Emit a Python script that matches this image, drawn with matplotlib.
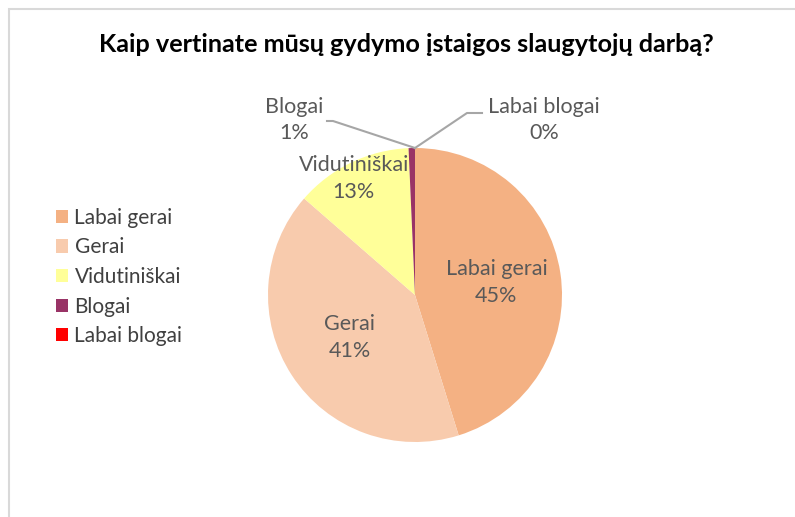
import numpy as np
import matplotlib
matplotlib.use("Agg")
import matplotlib.pyplot as plt
from matplotlib.patches import Rectangle

# ---------------------------------------------------------
# Duomenys
# ---------------------------------------------------------
kategorijos = ["Labai gerai", "Gerai", "Vidutiniškai", "Blogai", "Labai blogai"]
procentai = [45.2, 41.2, 12.9, 0.7, 0.0]
spalvos = ["#F4B183", "#F8CBAD", "#FFFF99", "#993366", "#FF0000"]
pavadinimas = "Kaip vertinate mūsų gydymo įstaigos slaugytojų darbą?"

plt.rcParams["font.family"] = ["Lato", "DejaVu Sans"]

W, H = 795, 517
fig = plt.figure(figsize=(W / 100, H / 100), dpi=100)
ax = fig.add_axes([0, 0, 1, 1])

# chart area border
fig.patches.append(Rectangle((9 / W, -0.1), 1.2, 1 - 9 / H + 0.1, transform=fig.transFigure,
                             fill=False, edgecolor="#D9D9D9", linewidth=1.5))

cx, cy, r = 415, H - 295, 147
wedges, _ = ax.pie(procentai, colors=spalvos, startangle=90, counterclock=False,
                   center=(cx, cy), radius=r, frame=True,
                   wedgeprops=dict(linewidth=0))
ax.set_xlim(0, W)
ax.set_ylim(0, H)
ax.axis("off")

teksto_spalva = "#595959"
dydis = 15.5
tarpai = 1.4


def vidurio_kampas(w):
    return np.deg2rad((w.theta1 + w.theta2) / 2)


# labels inside (frac of radius, small x shift)
vidiniai = {0: (0.56, 0), 1: (0.53, 0), 2: (0.88, -5)}
for i, (frac, dx) in vidiniai.items():
    a = vidurio_kampas(wedges[i])
    x = cx + frac * r * np.cos(a) + dx
    y = cy + frac * r * np.sin(a)
    ax.text(x, y, f"{kategorijos[i]}\n{procentai[i]:.0f}%", ha="center", va="center",
            fontsize=dydis, color=teksto_spalva, linespacing=tarpai, zorder=5)

# labels outside with leader lines
virsus = (cx, cy + r)
ax.plot([virsus[0], 333, 327], [virsus[1], H - 121, H - 121], color="#A6A6A6", lw=1.5)
ax.text(294, H - 120, f"{kategorijos[3]}\n{procentai[3]:.0f}%", ha="center", va="center",
        fontsize=dydis, color=teksto_spalva, linespacing=tarpai)
ax.plot([virsus[0], 467, 482], [virsus[1], H - 113, H - 113], color="#A6A6A6", lw=1.5)
ax.text(544, H - 120, f"{kategorijos[4]}\n{procentai[4]:.0f}%", ha="center", va="center",
        fontsize=dydis, color=teksto_spalva, linespacing=tarpai)

fig.text(406 / W, 1 - 45 / H, pavadinimas, ha="center", va="center",
         fontsize=18.2, fontweight="bold", color="black")

ax.legend(wedges, kategorijos, loc="center left", bbox_to_anchor=(37 / W, 1 - 277 / H),
          bbox_transform=fig.transFigure, frameon=False, fontsize=15,
          handlelength=0.6, handleheight=0.6, handletextpad=0.3, labelspacing=0.46,
          labelcolor="#404040")

fig.savefig("out.png", dpi=100)
